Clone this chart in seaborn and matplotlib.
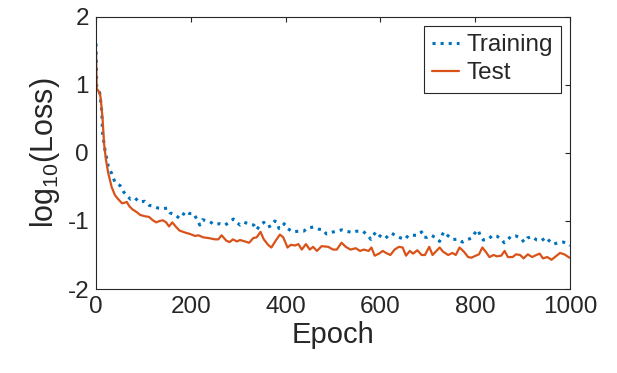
import numpy as np
import pandas as pd
import matplotlib
matplotlib.use("Agg")
import matplotlib.pyplot as plt
import seaborn as sns

# values (log10 of loss)
train_epoch = [0, 1.5, 8, 12, 14, 19, 26, 33, 40, 51, 58, 65, 73, 82, 91, 103, 112, 120,
               131, 141, 150, 156, 167, 176, 181, 188, 197, 206, 214, 219, 225, 233, 240,
               249, 261, 272, 281, 290, 297, 304, 312, 323, 333, 339, 346, 354, 363, 372,
               377, 382, 386, 391, 397, 404, 415, 427, 438, 447, 459, 470, 479, 486, 495,
               507, 519, 529, 540, 550, 563, 573, 580, 585, 591, 599, 610, 617, 624, 633,
               643, 652, 659, 668, 678, 687, 692, 698, 708, 717, 725, 729, 734, 743, 752,
               764, 773, 782, 792, 799, 806, 811, 817, 827, 837, 845, 856, 861, 868, 876,
               886, 896, 903, 910, 920, 930, 940, 949, 956, 965, 975, 986, 997, 1000]
train_loss = [1.61, 0.975, 0.88, 0.63, 0.29, 0.04, -0.20, -0.30, -0.43, -0.48, -0.57, -0.63,
              -0.68, -0.66, -0.72, -0.71, -0.77, -0.78, -0.81, -0.82, -0.81, -0.88, -0.91,
              -0.96, -0.94, -0.86, -0.89, -0.89, -0.99, -1.06, -0.98, -1.00, -1.01, -1.05,
              -1.04, -1.06, -1.02, -0.97, -1.02, -1.06, -1.02, -1.04, -1.06, -1.13, -1.06,
              -1.02, -1.09, -1.06, -1.00, -1.02, -1.11, -1.10, -1.04, -1.11, -1.16, -1.15,
              -1.15, -1.10, -1.09, -1.12, -1.13, -1.19, -1.17, -1.15, -1.13, -1.15, -1.17,
              -1.15, -1.15, -1.21, -1.27, -1.21, -1.16, -1.22, -1.26, -1.21, -1.18, -1.22,
              -1.25, -1.27, -1.21, -1.21, -1.21, -1.16, -1.24, -1.24, -1.21, -1.25, -1.30,
              -1.22, -1.16, -1.22, -1.27, -1.27, -1.31, -1.28, -1.25, -1.18, -1.13, -1.22,
              -1.28, -1.27, -1.21, -1.22, -1.27, -1.32, -1.28, -1.22, -1.22, -1.25, -1.31,
              -1.25, -1.23, -1.28, -1.29, -1.24, -1.29, -1.34, -1.32, -1.31, -1.34, -1.36]

test_epoch = [0, 1.5, 8, 10, 14, 17, 21, 26, 33, 40, 47, 55, 61, 65, 70, 77, 86, 93, 103,
              112, 120, 127, 134, 141, 148, 154, 161, 168, 176, 188, 198, 209, 216, 226,
              237, 251, 258, 265, 275, 282, 289, 297, 304, 314, 323, 332, 339, 347, 354,
              363, 370, 379, 388, 395, 404, 411, 420, 427, 434, 443, 451, 458, 466, 476,
              490, 500, 508, 518, 527, 537, 548, 557, 565, 575, 581, 588, 597, 605, 612,
              621, 630, 639, 647, 654, 662, 669, 678, 687, 694, 703, 710, 725, 732, 743,
              752, 759, 767, 776, 785, 792, 801, 808, 815, 822, 830, 839, 846, 855, 862,
              869, 879, 886, 895, 902, 911, 920, 929, 936, 943, 952, 961, 970, 979, 988,
              999]
test_loss = [1.51, 0.95, 0.88, 0.80, 0.49, 0.14, -0.10, -0.30, -0.50, -0.62, -0.68, -0.74,
             -0.73, -0.72, -0.78, -0.83, -0.87, -0.91, -0.93, -0.94, -0.99, -1.02, -1.00,
             -0.99, -1.02, -1.08, -1.02, -1.08, -1.14, -1.17, -1.19, -1.22, -1.21, -1.24,
             -1.25, -1.27, -1.27, -1.21, -1.29, -1.31, -1.27, -1.30, -1.28, -1.30, -1.32,
             -1.25, -1.24, -1.16, -1.27, -1.35, -1.39, -1.29, -1.20, -1.24, -1.39, -1.35,
             -1.36, -1.34, -1.42, -1.34, -1.42, -1.38, -1.44, -1.37, -1.38, -1.42, -1.42,
             -1.32, -1.38, -1.42, -1.40, -1.44, -1.42, -1.44, -1.39, -1.51, -1.48, -1.44,
             -1.47, -1.50, -1.42, -1.38, -1.39, -1.51, -1.44, -1.48, -1.43, -1.50, -1.50,
             -1.38, -1.50, -1.39, -1.45, -1.50, -1.47, -1.50, -1.39, -1.45, -1.53, -1.54,
             -1.51, -1.49, -1.39, -1.45, -1.53, -1.50, -1.52, -1.51, -1.44, -1.53, -1.53,
             -1.49, -1.50, -1.55, -1.49, -1.53, -1.50, -1.48, -1.55, -1.53, -1.57, -1.52,
             -1.47, -1.49, -1.54]

x_ticks = [0, 200, 400, 600, 800, 1000]
y_ticks = [-2, -1, 0, 1, 2]

sns.set_style("white")
plt.rcParams['font.family'] = ['Liberation Sans', 'DejaVu Sans']
plt.rcParams['mathtext.default'] = 'regular'
plt.rcParams['axes.unicode_minus'] = False

fig = plt.figure(figsize=(6.17, 3.73), dpi=100)
ax = fig.add_axes([96 / 617, 1 - 289 / 373, 474 / 617, 272 / 373])

train_df = pd.DataFrame({'epoch': train_epoch, 'loss': train_loss})
test_df = pd.DataFrame({'epoch': test_epoch, 'loss': test_loss})

sns.lineplot(data=train_df, x='epoch', y='loss', ax=ax, color='#0072BD',
             linestyle=':', linewidth=2.2, label='Training')
sns.lineplot(data=test_df, x='epoch', y='loss', ax=ax, color='#D95319',
             linewidth=1.6, label='Test')

ax.set_xlim(0, 1000)
ax.set_ylim(-2, 2)
ax.set_xticks(x_ticks)
ax.set_yticks(y_ticks)
ax.tick_params(direction='in', length=3.5, width=0.8, top=True, right=True,
               labelsize=17.5, colors='#262626', pad=5)
for s in ax.spines.values():
    s.set_color('#262626')
    s.set_linewidth(0.8)

ax.set_xlabel('Epoch', fontsize=21, color='#262626', labelpad=2)
ax.set_ylabel('log$_{10}$(Loss)', fontsize=22, color='#262626', labelpad=4)

leg = ax.legend(loc='upper right', fontsize=17.5, frameon=True, fancybox=False,
                handlelength=1.1, handletextpad=0.3, borderpad=0.35,
                labelspacing=0.25, borderaxespad=0.35)
leg.get_frame().set_edgecolor('#262626')
leg.get_frame().set_linewidth(0.8)
leg.get_frame().set_alpha(1)

fig.savefig('out.png', dpi=100)
